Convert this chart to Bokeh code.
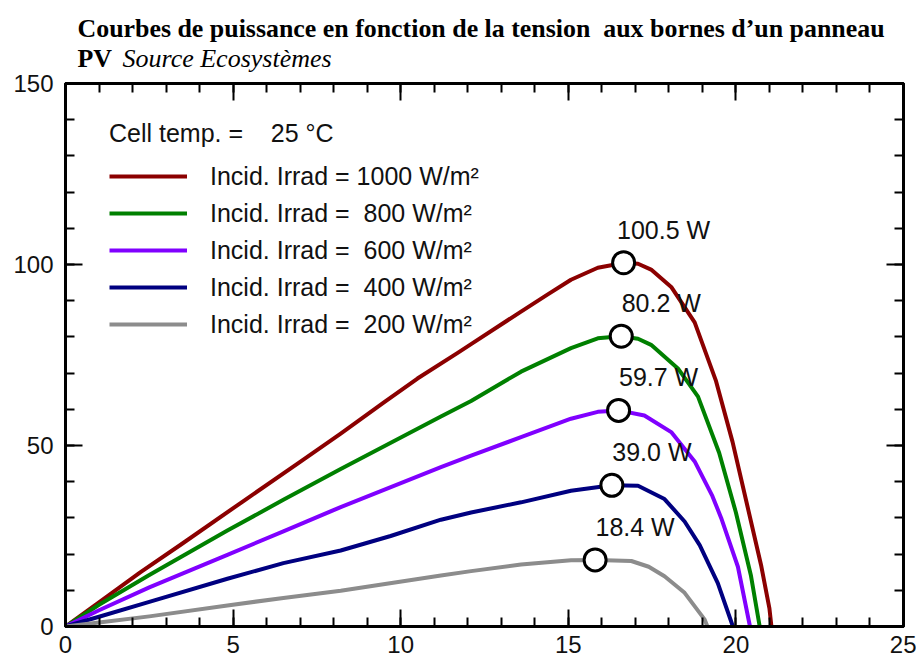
from bokeh.plotting import figure
from bokeh.layouts import column
from bokeh.models import (LinearAxis, SingleIntervalTicker, Range1d, Legend,
                          LegendItem, CustomJSTickFormatter)
from bokeh.core.properties import value
from bokeh.embed import file_html
from bokeh.resources import INLINE

# ---------------- data ----------------
title_line1 = "Courbes de puissance en fonction de la tension\u00a0\u00a0aux bornes d\u2019un panneau"
title_line2_bold = "PV"
title_line2_italic = "Source Ecosyst\u00e8mes"
cell_temp_label = "Cell temp. =\u00a0\u00a0\u00a0 25 \u00b0C"

series_labels = [
    "Incid. Irrad = 1000 W/m\u00b2",
    "Incid. Irrad =\u00a0\u00a0800 W/m\u00b2",
    "Incid. Irrad =\u00a0\u00a0600 W/m\u00b2",
    "Incid. Irrad =\u00a0\u00a0400 W/m\u00b2",
    "Incid. Irrad =\u00a0\u00a0200 W/m\u00b2",
]
colors = ["#8b0000", "#008000", "#8000ff", "#000080", "#8c8c8c"]

v_1000 = [0, 1.05, 2.24, 3.5, 5.33, 7.0, 8.21, 9.51, 10.5, 11.7, 12.1, 13.59, 14.4, 15.08,
          15.88, 16.68, 17.08, 17.47, 18.07, 18.77, 19.4, 19.9, 20.35, 20.75, 21.0, 21.06]
p_1000 = [0, 7.0, 15.0, 23.0, 34.8, 45.5, 53.3, 62.0, 68.5, 75.6, 78.0, 87.0, 91.8, 95.8,
          99.1, 100.5, 100.2, 98.6, 93.8, 84.0, 68.0, 51.0, 33.0, 17.0, 5.0, 0]

v_800 = [0, 1.0, 2.5, 4.83, 6.5, 8.21, 11.2, 12.1, 13.59, 15.08, 15.88, 16.56,
         17.08, 17.47, 18.27, 18.87, 19.5, 20.0, 20.45, 20.71]
p_800 = [0, 6.0, 14.2, 26.5, 35.0, 43.5, 58.0, 62.3, 70.4, 76.9, 79.6, 80.2,
         79.5, 77.8, 71.3, 63.5, 48.0, 31.5, 14.0, 0]

v_600 = [0, 1.0, 2.5, 4.83, 6.5, 8.21, 11.2, 12.1, 13.59, 15.08, 15.88, 16.5,
         17.27, 18.07, 18.77, 19.3, 19.56, 20.06, 20.42]
p_600 = [0, 4.5, 10.8, 19.8, 26.3, 33.0, 44.0, 47.2, 52.3, 57.4, 59.3, 59.7,
         58.3, 53.7, 45.6, 36.0, 30.0, 16.5, 0]

v_400 = [0, 1.0, 2.5, 4.83, 6.5, 8.21, 9.7, 11.2, 12.1, 13.59, 15.08, 16.3,
         17.08, 17.87, 18.47, 18.92, 19.46, 19.91]
p_400 = [0, 2.7, 6.8, 13.2, 17.5, 21.0, 25.0, 29.5, 31.5, 34.3, 37.5, 39.0,
         38.9, 35.2, 29.0, 22.5, 12.0, 0]

v_200 = [0, 1.0, 2.5, 4.83, 6.5, 8.21, 11.2, 12.1, 13.59, 15.08, 15.85,
         16.88, 17.4, 17.87, 18.47, 19.07, 19.15]
p_200 = [0, 1.1, 2.8, 5.8, 7.9, 9.9, 14.1, 15.3, 17.1, 18.3, 18.4,
         18.1, 16.5, 13.9, 9.3, 1.9, 0]

series_v = [v_1000, v_800, v_600, v_400, v_200]
series_p = [p_1000, p_800, p_600, p_400, p_200]

mpp_v = [16.65, 16.58, 16.5, 16.3, 15.8]
mpp_p = [100.5, 80.2, 59.7, 39.0, 18.4]
mpp_labels = ["100.5 W", "80.2 W", "59.7 W", "39.0 W", "18.4 W"]

x_min, x_max = 0, 25
y_min, y_max = 0, 150

SANS = "Liberation Sans"
SERIF = "Liberation Serif"

BL, BR = 65, 13          # left / right borders shared by both stacked figures
W, H = 916, 666
FW = W - BL - BR          # frame width
FRAME_TOP = 83            # page y of the plot frame top
OVERLAP = 14              # main chart starts slightly above the bottom of the title strip

# ---------------- title strip ----------------
TH = 80
pt = figure(width=W, height=TH, x_range=Range1d(BL, BL + FW), y_range=Range1d(TH, 0),
            x_axis_type=None, y_axis_type=None, output_backend="svg", toolbar_location=None,
            min_border_left=BL, min_border_right=BR, min_border_top=0, min_border_bottom=0,
            outline_line_color=None, margin=0)
pt.background_fill_color = "white"
pt.border_fill_color = "white"
pt.text(x=[77], y=[28], text=[title_line1], text_font=value(SERIF),
        text_font_style=value("bold"), text_font_size="25.9px", text_color="black",
        text_baseline="alphabetic", text_align="left")
pt.text(x=[77], y=[58], text=[title_line2_bold], text_font=value(SERIF),
        text_font_style=value("bold"), text_font_size="25.9px", text_color="black",
        text_baseline="alphabetic", text_align="left")
pt.text(x=[122], y=[58], text=[title_line2_italic], text_font=value(SERIF),
        text_font_style=value("italic"), text_font_size="26px", text_color="black",
        text_baseline="alphabetic", text_align="left")

# ---------------- main chart ----------------
MAIN_TOP = TH - OVERLAP
p = figure(width=W, height=H - MAIN_TOP, x_range=Range1d(x_min, x_max), y_range=Range1d(y_min, y_max),
           x_axis_type=None, y_axis_type=None, output_backend="svg", toolbar_location=None,
           min_border_left=BL, min_border_right=BR, min_border_top=FRAME_TOP - MAIN_TOP,
           min_border_bottom=40, margin=(-OVERLAP, 0, 0, 0))
p.background_fill_color = "white"
p.border_fill_color = None
p.outline_line_color = "black"
p.outline_line_width = 3


def style_axis(ax, labels=True):
    ax.axis_line_width = 3
    ax.axis_line_color = "black"
    ax.major_tick_in = 17
    ax.major_tick_out = 0
    ax.minor_tick_in = 9
    ax.minor_tick_out = 0
    ax.major_tick_line_width = 2
    ax.minor_tick_line_width = 2
    ax.major_tick_line_color = "black"
    ax.minor_tick_line_color = "black"
    ax.major_label_text_font = SANS
    ax.major_label_text_font_size = "24px"
    ax.major_label_text_color = "#111111"
    if not labels:
        ax.formatter = CustomJSTickFormatter(code="return ''")
        ax.major_label_standoff = 0


xb = LinearAxis(ticker=SingleIntervalTicker(interval=5, num_minor_ticks=5))
style_axis(xb)
xb.major_label_standoff = 9
p.add_layout(xb, "below")

yl = LinearAxis(ticker=SingleIntervalTicker(interval=50, num_minor_ticks=5))
style_axis(yl)
yl.major_label_standoff = 12
p.add_layout(yl, "left")

xa = LinearAxis(ticker=SingleIntervalTicker(interval=5, num_minor_ticks=5))
style_axis(xa, labels=False)
p.add_layout(xa, "above")

yr = LinearAxis(ticker=SingleIntervalTicker(interval=50, num_minor_ticks=5))
style_axis(yr, labels=False)
p.add_layout(yr, "right")

renderers = []
for v, pw, c in zip(series_v, series_p, colors):
    r = p.line(v, pw, line_color=c, line_width=4, line_join="round")
    renderers.append(r)

p.scatter(mpp_v, mpp_p, size=22, marker="circle", fill_color="white",
          line_color="black", line_width=3)
p.text(x=mpp_v, y=mpp_p, text=mpp_labels, x_offset=40, y_offset=-33,
       text_align="center", text_baseline="middle",
       text_font=value(SANS), text_font_size="25px", text_color="#111111")

legend = Legend(items=[LegendItem(label=lab, renderers=[r]) for lab, r in zip(series_labels, renderers)],
                location=(44, 287), title=cell_temp_label)
legend.title_text_font = SANS
legend.title_text_font_size = "25px"
legend.title_text_font_style = "normal"
legend.title_text_color = "#111111"
legend.title_standoff = 13
legend.label_text_font = SANS
legend.label_text_font_size = "25px"
legend.label_text_color = "#111111"
legend.glyph_width = 78
legend.glyph_height = 30
legend.label_height = 30
legend.label_standoff = 23
legend.spacing = 7
legend.padding = 0
legend.margin = 0
legend.border_line_color = None
legend.background_fill_alpha = 0
p.add_layout(legend, "center")

layout = column(pt, p, spacing=0)
open("out.html", "w").write(file_html(layout, INLINE))
